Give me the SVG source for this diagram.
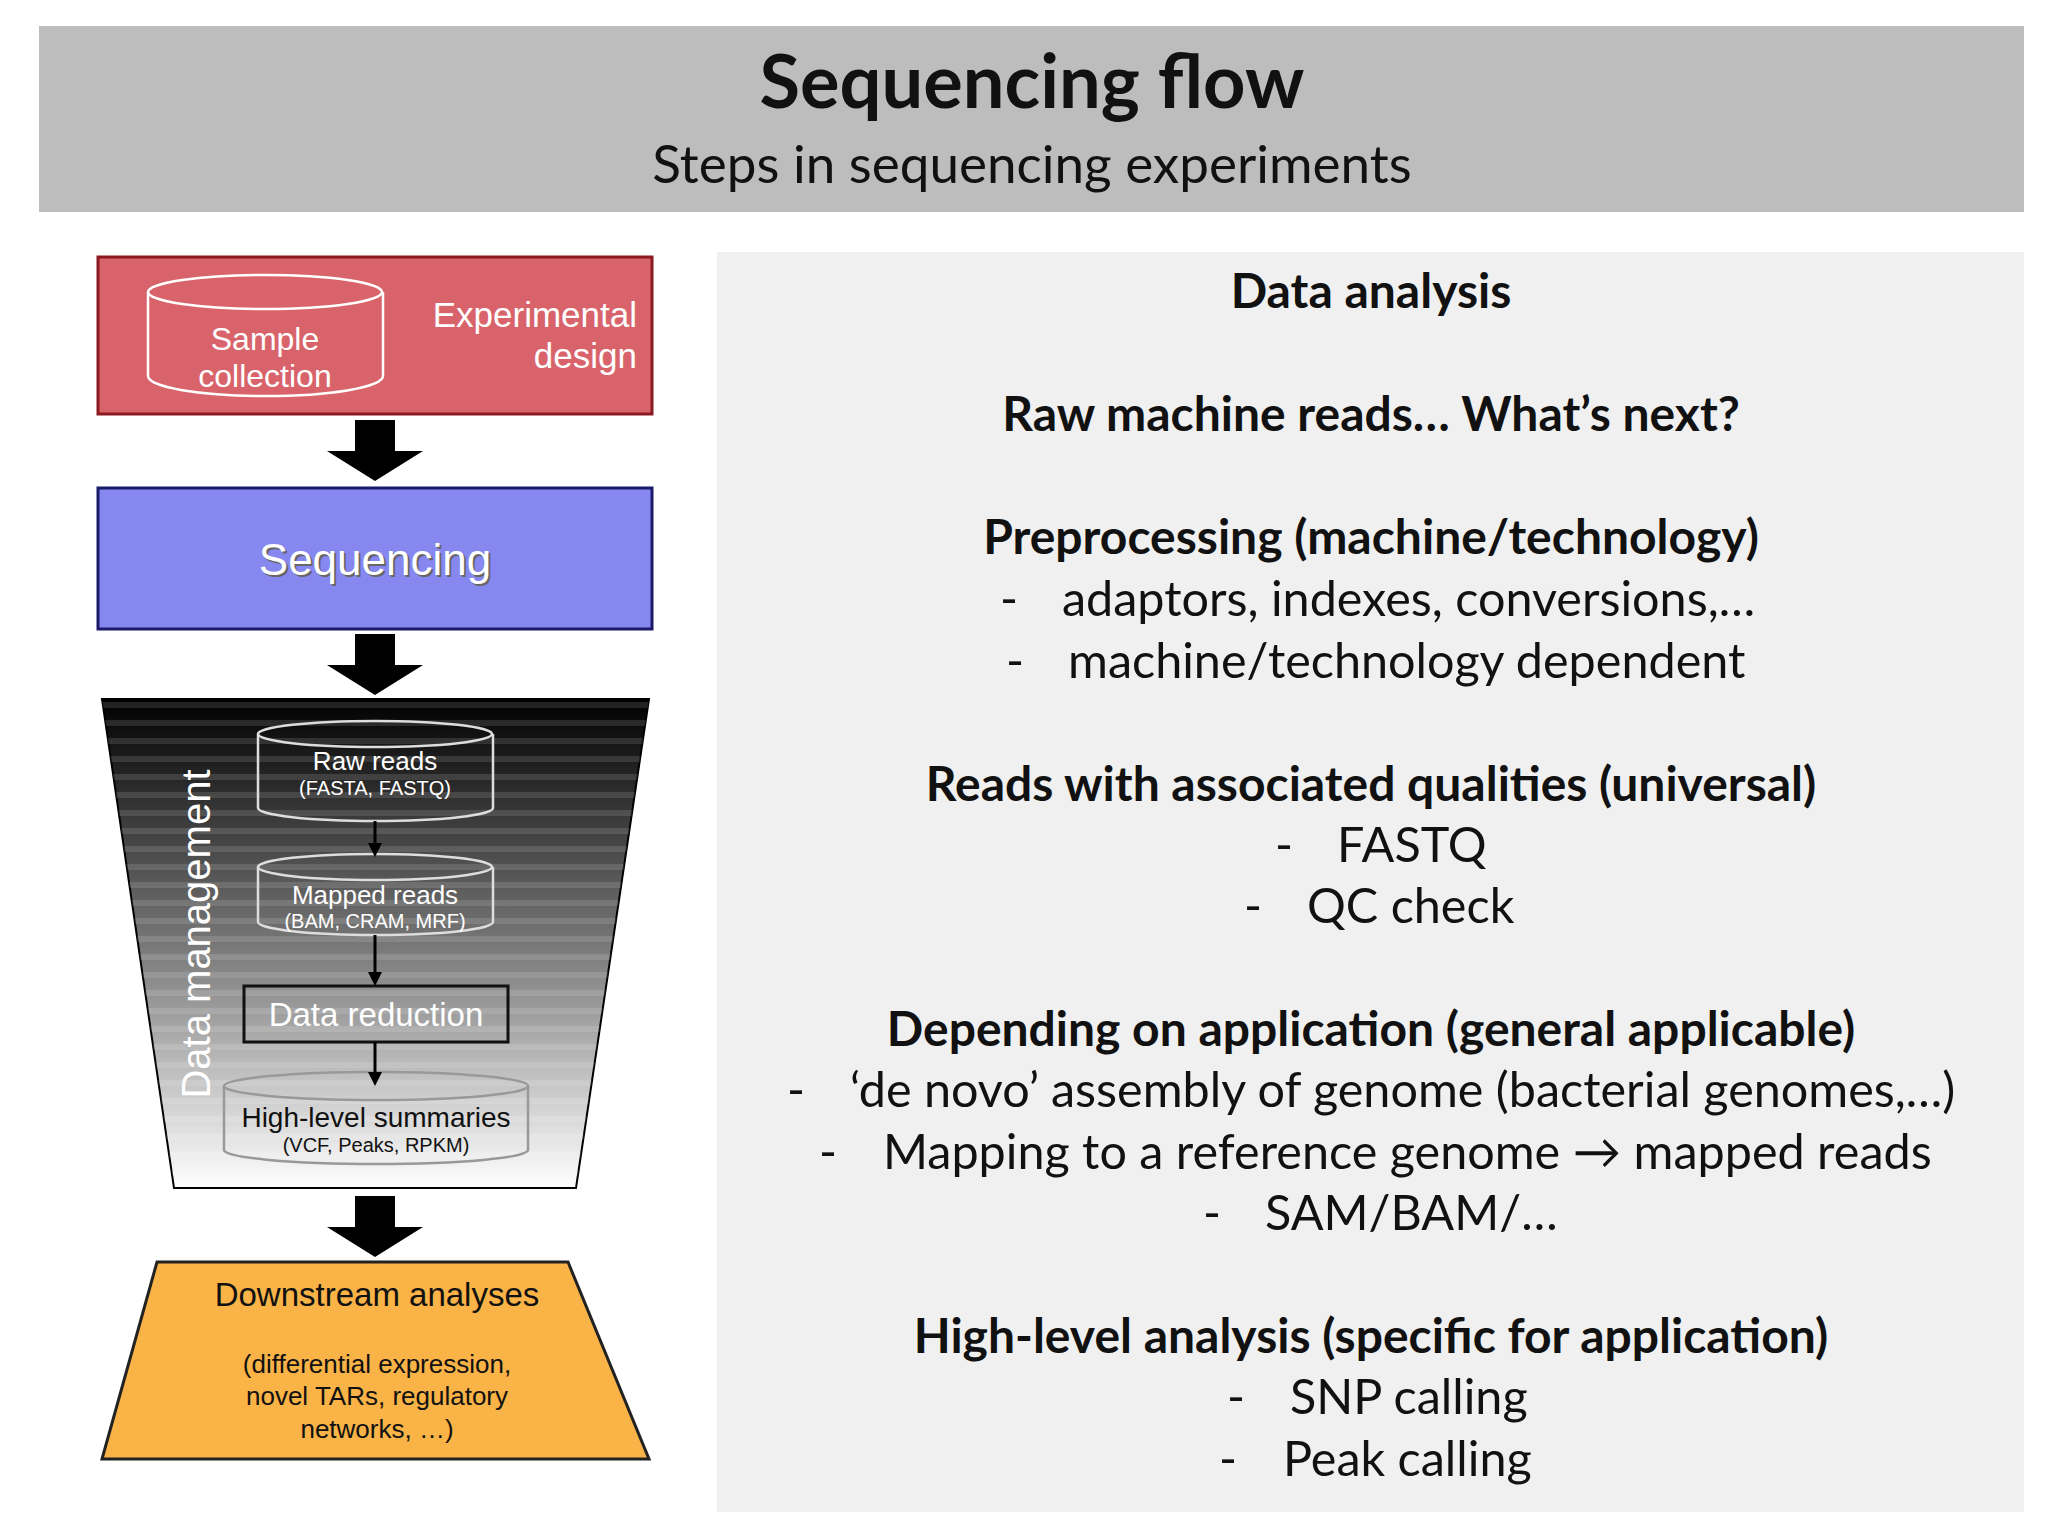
<svg xmlns="http://www.w3.org/2000/svg" width="2048" height="1536" viewBox="0 0 2048 1536">
<style>
.t{font-family:Lato,"Open Sans",sans-serif;fill:#111}
.r{font-family:Lato,"Open Sans",sans-serif;font-size:48.5px;fill:#111}
.h{font-family:Lato,"Open Sans",sans-serif;font-size:48px;font-weight:bold;fill:#111;text-anchor:middle}
.a{font-family:"Liberation Sans",Arial,sans-serif}
.cyl{fill:none;stroke:#ddd;stroke-width:2.5}
.sa{stroke:#000;stroke-width:3}
</style>
<defs>
<linearGradient id="fg" x1="0" y1="0" x2="0" y2="1">
<stop offset="0" stop-color="#000"/><stop offset="0.5" stop-color="#777"/><stop offset="1" stop-color="#fff"/>
</linearGradient>
<pattern id="st" width="10" height="18" patternUnits="userSpaceOnUse">
<rect width="10" height="6" fill="#fff" opacity="0.12"/>
</pattern>
<path id="bigarrow" d="M-20,0 H20 V31 H48 L0,61 L-48,31 H-20 Z" fill="#000"/>
<path id="smallhead" d="M-7,-14 L7,-14 L0,0 Z" fill="#000"/>
</defs>
<rect width="2048" height="1536" fill="#fff"/>
<g id="header">
<rect x="39" y="26" width="1985" height="186" fill="#bdbdbd"/>
<text class="t" x="1032" y="108" font-size="74" font-weight="bold" text-anchor="middle">Sequencing flow</text>
<text class="t" x="1032" y="183" font-size="53" text-anchor="middle">Steps in sequencing experiments</text>
</g>
<g id="panel">
<rect x="717" y="252" width="1307" height="1260" fill="#f0f0f0"/>
<text class="h" x="1371" y="308">Data analysis</text>
<text class="h" x="1371" y="431">Raw machine reads… What’s next?</text>
<text class="h" x="1371" y="554">Preprocessing (machine/technology)</text>
<text class="r" x="1000" y="616">-</text><text class="r" x="1062" y="616">adaptors, indexes, conversions,…</text>
<text class="r" x="1006" y="678">-</text><text class="r" x="1068" y="678">machine/technology dependent</text>
<text class="h" x="1371" y="801">Reads with associated qualities (universal)</text>
<text class="r" x="1275" y="862">-</text><text class="r" x="1337" y="862">FASTQ</text>
<text class="r" x="1244" y="923">-</text><text class="r" x="1307" y="923">QC check</text>
<text class="h" x="1371" y="1046">Depending on application (general applicable)</text>
<text class="r" x="787" y="1107">-</text><text class="r" x="850" y="1107">‘de novo’ assembly of genome (bacterial genomes,…)</text>
<text class="r" x="819" y="1169">-</text><text class="r" x="883" y="1169">Mapping to a reference genome → mapped reads</text>
<text class="r" x="1203" y="1230">-</text><text class="r" x="1265" y="1230">SAM/BAM/…</text>
<text class="h" x="1371" y="1353">High-level analysis (specific for application)</text>
<text class="r" x="1227" y="1414">-</text><text class="r" x="1290" y="1414">SNP calling</text>
<text class="r" x="1219" y="1476">-</text><text class="r" x="1283" y="1476">Peak calling</text>
</g>
<g id="experimental">
<rect x="98" y="257" width="554" height="157" fill="#d9636a" stroke="#8a1a20" stroke-width="3"/>
<path d="M148,292 V376 A117,20 0 0 0 383,376 V292" fill="none" stroke="#fff" stroke-width="2.5"/>
<ellipse cx="265" cy="292" rx="117" ry="17" fill="none" stroke="#fff" stroke-width="2.5"/>
<text class="a" x="265" y="350" font-size="32" fill="#fff" text-anchor="middle">Sample</text>
<text class="a" x="265" y="387" font-size="32" fill="#fff" text-anchor="middle">collection</text>
<text class="a" x="637" y="327" font-size="35" fill="#fff" text-anchor="end">Experimental</text>
<text class="a" x="637" y="368" font-size="35" fill="#fff" text-anchor="end">design</text>
</g>
<g id="sequencing">
<rect x="98" y="488" width="554" height="141" fill="#8787f0" stroke="#1a1a6a" stroke-width="3"/>
<text class="a" x="377" y="577" font-size="44" fill="#666" text-anchor="middle">Sequencing</text>
<text class="a" x="375" y="575" font-size="44" fill="#fff" text-anchor="middle">Sequencing</text>
</g>
<g id="datamanagement">
<path d="M102,699 H649 L576,1188 H174 Z" fill="url(#fg)" stroke="#000" stroke-width="2"/>
<path d="M102,699 H649 L576,1188 H174 Z" fill="url(#st)"/>
<text class="a" x="0" y="0" font-size="40" fill="#fff" text-anchor="middle" transform="translate(210,934) rotate(-90)">Data management</text>
<g id="rawreads">
<path d="M258,734 V808 A117,13 0 0 0 493,808 V734" class="cyl"/>
<ellipse cx="375" cy="734" rx="117" ry="13" class="cyl"/>
<text class="a" x="375" y="770" font-size="26" fill="#fff" text-anchor="middle">Raw reads</text>
<text class="a" x="375" y="795" font-size="20" fill="#fff" text-anchor="middle">(FASTA, FASTQ)</text>
</g>
<g id="mapped">
<path d="M258,867 V922 A117,13 0 0 0 493,922 V867" class="cyl"/>
<ellipse cx="375" cy="867" rx="117" ry="13" class="cyl"/>
<text class="a" x="375" y="904" font-size="26" fill="#fff" text-anchor="middle">Mapped reads</text>
<text class="a" x="375" y="928" font-size="20" fill="#fff" text-anchor="middle">(BAM, CRAM, MRF)</text>
</g>
<g id="reduction">
<rect x="244" y="986" width="264" height="56" fill="none" stroke="#111" stroke-width="3"/>
<text class="a" x="376" y="1026" font-size="33" fill="#fff" text-anchor="middle">Data reduction</text>
</g>
<g id="summaries">
<path d="M224,1086 V1150 A152,14 0 0 0 528,1150 V1086" fill="none" stroke="#999" stroke-width="2.5"/>
<ellipse cx="376" cy="1086" rx="152" ry="14" fill="none" stroke="#999" stroke-width="2.5"/>
<text class="a" x="376" y="1127" font-size="28" fill="#111" text-anchor="middle">High-level summaries</text>
<text class="a" x="376" y="1152" font-size="20" fill="#111" text-anchor="middle">(VCF, Peaks, RPKM)</text>
</g>
</g>
<g id="connectors">
<use href="#bigarrow" x="375" y="420"/>
<use href="#bigarrow" x="375" y="634"/>
<use href="#bigarrow" x="375" y="1196"/>
<line x1="375" y1="821" x2="375" y2="845" class="sa"/><use href="#smallhead" x="375" y="857"/>
<line x1="375" y1="935" x2="375" y2="974" class="sa"/><use href="#smallhead" x="375" y="986"/>
<line x1="375" y1="1042" x2="375" y2="1074" class="sa"/><use href="#smallhead" x="375" y="1086"/>
</g>
<g id="downstream">
<path d="M157,1262 H568 L649,1459 H102 Z" fill="#f9b347" stroke="#222" stroke-width="3"/>
<text class="a" x="377" y="1306" font-size="33" fill="#111" text-anchor="middle">Downstream analyses</text>
<text class="a" x="377" y="1373" font-size="26" fill="#111" text-anchor="middle">(differential expression,</text>
<text class="a" x="377" y="1405" font-size="26" fill="#111" text-anchor="middle">novel TARs, regulatory</text>
<text class="a" x="377" y="1438" font-size="26" fill="#111" text-anchor="middle">networks, …)</text>
</g>
</svg>
